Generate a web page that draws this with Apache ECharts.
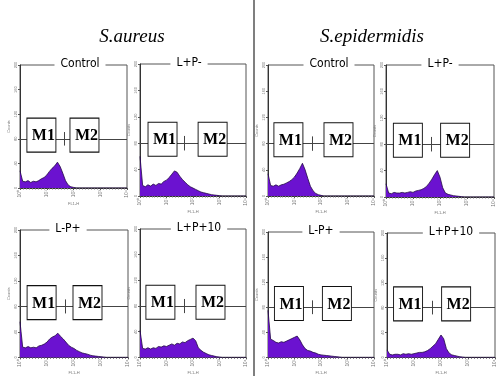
<!DOCTYPE html>
<html>
<head>
<meta charset="utf-8">
<title>FL1-H histograms</title>
<script src="https://cdn.jsdelivr.net/npm/echarts@6/dist/echarts.min.js"></script>
<style>
html, body { margin: 0; padding: 0; background: #fff; }
#main { width: 499px; height: 376px; }
</style>
</head>
<body>
<div id="main"></div>
<script>
// log10 of FL1-H (channel decade), shared by all histograms
var fl1 = [0.0,0.1,0.2,0.3,0.4,0.5,0.6,0.7,0.8,0.9,1.0,1.1,1.2,1.3,1.4,1.5,1.6,1.7,1.8,1.9,2.0,
           2.1,2.2,2.3,2.4,2.5,2.6,2.7,2.8,2.9,3.0,3.1,3.2,3.3,3.4,3.5,3.6,3.7,3.8,3.9,4.0];
var xTickLabels = ['10\u2070','10\u00b9','10\u00b2','10\u00b3','10\u2074'];
var yTicks = [0, 40, 80, 120, 160, 200];
var groupNames = ['S.aureus', 'S.epidermidis'];
// panels in reading order: row 1 then row 2
var panelNames = ['Control', 'L+P-', 'Control', 'L+P-', 'L-P+', 'L+P+10', 'L-P+', 'L+P+10'];

var aureusControl = [28,11,10,12,9,11,10,12,15,17,21,27,32,36,42,35,24,12,5,2,1,0,0,0,0,0,0,0,0,0,0,0,0,0,0,0,0,0,0,0,0];
var aureusLP_     = [60,16,14,17,15,18,16,19,18,22,24,28,33,38,36,30,25,21,17,14,12,10,8,6,5,4,3,2,1.5,1,0.5,0,0,0,0,0,0,0,0,0,0];
var aureusL_P     = [56,16,15,17,15,16,15,18,19,21,24,29,32,34,38,33,29,24,19,16,14,11,9,7,6,5,3.5,2.5,2,1.5,1,0.5,0,0,0,0,0,0,0,0,0];
var aureusLP10    = [42,14,13,15,13,15,14,17,16,18,17,19,21,19,22,21,24,23,26,28,30,26,15,11,8,6,4,3,2,1,0.5,0,0,0,0,0,0,0,0,0,0];
var epiControl    = [34,16,15,17,15,17,18,20,22,25,29,35,42,50,40,27,15,8,4,2,1,0,0,0,0,0,0,0,0,0,0,0,0,0,0,0,0,0,0,0,0];
var epiLP_        = [20,6,5,7,6,6,7,6,7,8,7,9,10,11,13,16,21,27,34,40,30,14,6,4,3,2,1.5,1,0.5,0,0,0,0,0,0,0,0,0,0,0,0];
var epiL_P        = [75,29,27,24,23,25,24,26,28,30,32,34,28,20,14,11,10,8,7,5,4,3.5,3,2.5,2,1.5,1,0.5,0,0,0,0,0,0,0,0,0,0,0,0,0];
var epiLP10       = [12,5,4,5,5,4,6,5,6,5,6,7,8,8,9,11,14,18,22,29,36,30,14,7,4,3,2,1,0.5,0,0,0,0,0,0,0,0,0,0,0,0];

var histograms = [aureusControl, aureusLP_, epiControl, epiLP_, aureusL_P, aureusLP10, epiL_P, epiLP10];

// marker gates (centre in decades) and gate level in counts
var m1Centre = [0.80, 0.85, 0.77, 0.81, 0.80, 0.77, 0.79, 0.78];
var m2Centre = [2.41, 2.74, 2.66, 2.56, 2.50, 2.66, 2.60, 2.56];
var gateLevel = 80;
var boxLevel = 86;
var splitAt = 1.67;

// panel frames (px)
var frames = [
    {left: 20,  top: 65,  width: 107, height: 123},
    {left: 140, top: 64,  width: 106, height: 132},
    {left: 268, top: 65,  width: 106, height: 131},
    {left: 386, top: 65,  width: 108, height: 132},
    {left: 20,  top: 230, width: 108, height: 134},
    {left: 140, top: 229, width: 106, height: 134},
    {left: 268, top: 232, width: 106, height: 131},
    {left: 387, top: 233, width: 108, height: 128}
];
var titleCentre = [74, 183, 323, 434, 62, 193, 315, 445];
var panelFont = "'DejaVu Sans Condensed', 'Liberation Sans Narrow', 'Liberation Sans', sans-serif";

var grids = [], xAxes = [], yAxes = [], series = [], titles = [];

titles.push({
    text: groupNames[0], left: 127, top: 22, textAlign: 'center',
    textStyle: {fontFamily: 'Liberation Serif', fontStyle: 'italic', fontWeight: 'normal', fontSize: 19, color: '#000'}
});
titles.push({
    text: groupNames[1], left: 367, top: 22, textAlign: 'center',
    textStyle: {fontFamily: 'Liberation Serif', fontStyle: 'italic', fontWeight: 'normal', fontSize: 19, color: '#000'}
});

for (var i = 0; i < 8; i++) {
    var f = frames[i];
    grids.push({
        left: f.left, top: f.top, width: f.width, height: f.height,
        show: true, borderColor: '#555', borderWidth: 1
    });
    xAxes.push({
        gridIndex: i, type: 'value', min: 0, max: 4, interval: 1,
        name: 'FL1-H', nameLocation: 'middle', nameGap: 11,
        nameTextStyle: {fontSize: 4, color: '#777'},
        axisLine: {lineStyle: {color: '#333'}},
        axisTick: {length: 2, lineStyle: {color: '#555'}},
        minorTick: {show: true, splitNumber: 9, length: 1.5, lineStyle: {color: '#777'}},
        splitLine: {show: false},
        axisLabel: {
            fontSize: 5, color: '#777', rotate: 90, margin: 2,
            formatter: function (v) { return xTickLabels[Math.round(v)]; }
        }
    });
    yAxes.push({
        gridIndex: i, type: 'value', min: yTicks[0], max: yTicks[yTicks.length - 1], interval: 40,
        name: 'Counts', nameLocation: 'middle', nameGap: 9,
        nameTextStyle: {fontSize: 4, color: '#777'},
        axisLine: {show: true, lineStyle: {color: '#333'}},
        axisTick: {show: true, length: 2, lineStyle: {color: '#555'}},
        splitLine: {show: false},
        axisLabel: {fontSize: 4, color: '#777', rotate: 90, margin: 2}
    });
    var pts = [];
    for (var k = 0; k < fl1.length; k++) pts.push([fl1[k], histograms[i][k]]);
    series.push({
        type: 'line', xAxisIndex: i, yAxisIndex: i, data: pts,
        showSymbol: false, silent: true, z: 2,
        lineStyle: {color: '#230a45', width: 0.8},
        areaStyle: {color: '#6b12d0', opacity: 1},
        markLine: {
            silent: true, symbol: 'none', label: {show: false},
            lineStyle: {color: '#444', width: 1, type: 'solid'},
            data: [
                {yAxis: gateLevel},
                [{coord: [splitAt, gateLevel - 11]}, {coord: [splitAt, gateLevel + 11]}]
            ]
        }
    });
    series.push({
        type: 'scatter', xAxisIndex: i, yAxisIndex: i, z: 5, silent: true,
        symbol: 'rect', symbolSize: [29, 34],
        itemStyle: {color: '#fff', borderColor: '#111', borderWidth: 1, opacity: 1},
        label: {
            show: true, position: 'inside', formatter: '{b}', offset: [2, 1],
            fontFamily: 'Liberation Serif', fontWeight: 'bold', fontSize: 16, color: '#000'
        },
        data: [
            {name: 'M1', value: [m1Centre[i], boxLevel]},
            {name: 'M2', value: [m2Centre[i], boxLevel]}
        ]
    });
    titles.push({
        text: panelNames[i], left: titleCentre[i], top: f.top - 7, textAlign: 'center',
        backgroundColor: '#fff', padding: [0, 6],
        textStyle: {fontFamily: panelFont, fontWeight: 'normal', fontSize: 12, color: '#000'}
    });
}

var chart = echarts.init(document.getElementById('main'));
chart.setOption({
    animation: false,
    backgroundColor: '#fff',
    title: titles,
    grid: grids,
    xAxis: xAxes,
    yAxis: yAxes,
    series: series,
    graphic: [{
        type: 'line', silent: true,
        shape: {x1: 254, y1: 0, x2: 254, y2: 376},
        style: {stroke: '#555', lineWidth: 1.5}
    }]
});
</script>
</body>
</html>
